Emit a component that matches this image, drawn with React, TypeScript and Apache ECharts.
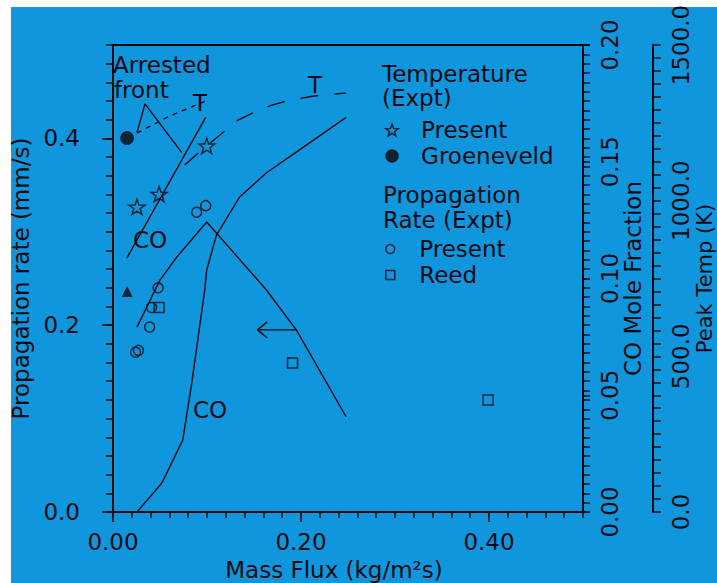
import React, { useEffect, useRef } from 'react';
import * as echarts from 'echarts';

const BLUE = '#0f96dc';
const INK = '#050a10';
const FONT = 'DejaVu Sans';

// x: mass flux (kg/m^2 s)
// Temperature (Expt) — Present (K)
const tempPresent = [[0.0255, 980], [0.049, 1021], [0.0997, 1176]];
// Temperature (Expt) — Groeneveld (K)
const tempGroeneveld = [[0.015, 1201]];
// Propagation rate — Groeneveld (mm/s)
const rateGroeneveld = [[0.015, 0.236]];
// Propagation Rate (Expt) — Present (mm/s)
const ratePresent = [
  [0.024, 0.171], [0.027, 0.173], [0.039, 0.198], [0.041, 0.219],
  [0.048, 0.24], [0.089, 0.321], [0.0986, 0.328],
];
// Propagation Rate (Expt) — Reed (mm/s)
const rateReed = [[0.049, 0.219], [0.191, 0.1595], [0.399, 0.12]];
// Model peak temperature curves (K)
const tempModelShort = [[0.0255, 1217], [0.0604, 1272], [0.0986, 1320]];
const tempModelLong = [
  [0.0764, 1115], [0.0997, 1176], [0.133, 1259], [0.151, 1285],
  [0.169, 1307], [0.188, 1323], [0.214, 1336], [0.248, 1346],
];
// Model CO mole fraction curves
const coModelLow = [[0.0148, 0.1088], [0.0986, 0.169]];
const coModelHigh = [
  [0.0255, 0], [0.052, 0.0124], [0.0742, 0.0308], [0.0838, 0.0553],
  [0.0976, 0.0951], [0.0997, 0.1036], [0.11, 0.1186], [0.1347, 0.1349],
  [0.163, 0.1452], [0.198, 0.155], [0.248, 0.169],
];
// Model propagation rate (mm/s)
const rateModel = [
  [0.0255, 0.198], [0.0498, 0.248], [0.0679, 0.273], [0.0997, 0.3105],
  [0.163, 0.238], [0.195, 0.195], [0.248, 0.102],
];
// Annotation arrow (mm/s units)
const arrowShaft = [[0.195, 0.195], [0.1537, 0.195]];
const arrowHead = [[0.164, 0.2036], [0.1537, 0.195], [0.164, 0.1864]];
const arrestedPointer = [[0.0255, 0.406], [0.034, 0.437], [0.073, 0.385]];

const STAR =
  'path://M0,-10 L2.35,-3.24 L9.51,-3.09 L3.8,1.24 L5.88,8.09 L0,4 L-5.88,8.09 L-3.8,1.24 L-9.51,-3.09 L-2.35,-3.24 Z';
const SQUARE = 'path://M0,0 L10,0 L10,10 L0,10 Z';

const txt = { color: INK, fontFamily: FONT, fontSize: 23 };
const aLine = { show: true, lineStyle: { color: INK, width: 2 } };
const tickStyle = { color: INK, width: 1.5 };

function App() {
  const ref = useRef<HTMLDivElement>(null);
  useEffect(() => {
    if (!ref.current) return;
    const chart = echarts.init(ref.current, undefined, { renderer: 'svg' });
    const lineSeries = (name: string, data: number[][], y: number, type: any = 'solid', width = 1.4) => ({
      name,
      type: 'line',
      data,
      xAxisIndex: 0,
      yAxisIndex: y,
      symbol: 'none',
      smooth: false,
      lineStyle: { color: INK, width, type },
      silent: true,
      z: 3,
    });
    const gText = (text: string, x: number, y: number, align = 'left') => ({
      type: 'text',
      x,
      y,
      silent: true,
      style: { text, fill: INK, fontFamily: FONT, fontSize: 23, align, verticalAlign: 'middle' },
    });
    chart.setOption({
      animation: false,
      backgroundColor: BLUE,
      grid: {
        left: 113, top: 45, width: 470, height: 467, show: true,
        borderColor: INK, borderWidth: 2, backgroundColor: 'transparent', containLabel: false,
        outerBoundsMode: 'none',
      },
      xAxis: [
        {
          type: 'value', position: 'bottom', min: 0, max: 0.5, interval: 0.2,
          axisLine: aLine, axisTick: { show: true, length: 10, lineStyle: tickStyle },
          axisLabel: { ...txt, margin: 18, showMaxLabel: false, formatter: (v: number) => v.toFixed(2) },
          splitLine: { show: false },
          name: 'Mass Flux (kg/m²s)', nameLocation: 'middle', nameGap: 46,
          nameTextStyle: { ...txt, padding: [0, 28, 0, 0] },
        },
        {
          type: 'value', position: 'bottom', min: 0, max: 0.5, interval: 0.02,
          axisLine: { show: false }, axisTick: { show: true, length: 6, lineStyle: tickStyle },
          axisLabel: { show: false }, splitLine: { show: false },
        },
      ],
      yAxis: [
        {
          type: 'value', position: 'left', min: 0, max: 0.5, interval: 0.2,
          axisLine: aLine, axisTick: { show: true, length: 11, lineStyle: tickStyle },
          axisLabel: { ...txt, margin: 33, showMaxLabel: false, formatter: (v: number) => v.toFixed(1) },
          splitLine: { show: false },
          name: 'Propagation rate (mm/s)', nameLocation: 'middle', nameGap: 78, nameRotate: 90,
          nameTextStyle: { ...txt },
        },
        {
          type: 'value', position: 'left', min: 0, max: 0.5, interval: 0.02,
          axisLine: { show: false }, axisTick: { show: true, length: 7, lineStyle: tickStyle },
          axisLabel: { show: false }, splitLine: { show: false },
        },
        {
          type: 'value', position: 'right', min: 0, max: 0.2, interval: 0.05,
          axisLine: aLine, axisTick: { show: true, length: 7, lineStyle: tickStyle },
          axisLabel: { ...txt, rotate: 90, margin: 15, formatter: (v: number) => v.toFixed(2) },
          splitLine: { show: false },
          name: 'CO Mole Fraction', nameLocation: 'middle', nameGap: 38, nameRotate: 90,
          nameMoveOverlap: false,
          nameTextStyle: { ...txt },
        },
        {
          type: 'value', position: 'right', min: 0, max: 0.2, interval: 0.004,
          axisLine: { show: false }, axisTick: { show: true, length: 7, lineStyle: tickStyle },
          axisLabel: { show: false }, splitLine: { show: false },
        },
        {
          type: 'value', position: 'right', offset: 70, min: 0, max: 1500, interval: 500,
          axisLine: aLine, axisTick: { show: true, length: 8, lineStyle: tickStyle },
          minorTick: { show: true, splitNumber: 12, length: 8, lineStyle: tickStyle },
          axisLabel: { ...txt, rotate: 90, margin: 16, formatter: (v: number) => v.toFixed(1) },
          splitLine: { show: false }, minorSplitLine: { show: false },
          name: 'Peak Temp (K)', nameLocation: 'middle', nameGap: 41, nameRotate: 90,
          nameMoveOverlap: false,
          nameTextStyle: { ...txt, fontSize: 21 },
        },
      ],
      legend: [
        {
          data: ['Present (T)', 'Groeneveld'], orient: 'vertical', left: 385, top: 117,
          itemWidth: 48, itemHeight: 12, itemGap: 0, padding: 0, selectedMode: false,
          itemStyle: { borderWidth: 1.5 },
          textStyle: { ...txt, lineHeight: 26 },
          formatter: (n: string) => n.replace(/ \(.*\)$/, ''),
        },
        {
          data: ['Present (rate)', { name: 'Reed', icon: SQUARE }], orient: 'vertical', left: 385, top: 236,
          itemWidth: 48, itemHeight: 9, itemGap: 0, padding: 0, selectedMode: false,
          itemStyle: { borderWidth: 1.5 },
          textStyle: { ...txt, lineHeight: 26 },
          formatter: (n: string) => n.replace(/ \(.*\)$/, ''),
        },
      ],
      graphic: [
        { type: 'rect', x: 0, y: 0, silent: true, shape: { width: 717, height: 7 }, style: { fill: '#ffffff' } },
        { type: 'rect', x: 0, y: 0, silent: true, shape: { width: 11, height: 583 }, style: { fill: '#ffffff' } },
        gText('Temperature', 382, 74),
        gText('(Expt)', 382, 98),
        gText('Propagation', 383, 195),
        gText('Rate (Expt)', 383, 220),
        gText('Arrested', 113, 65),
        gText('front', 114, 90),
        gText('CO', 150, 240, 'center'),
        gText('CO', 210, 410, 'center'),
        gText('T', 200, 103, 'center'),
        gText('T', 315, 85, 'center'),
      ],
      series: [
        lineSeries('tempModelShort', tempModelShort, 4, [5, 5]),
        lineSeries('tempModelLong', tempModelLong, 4, [18, 16]),
        lineSeries('coModelLow', coModelLow, 2),
        lineSeries('coModelHigh', coModelHigh, 2),
        lineSeries('rateModel', rateModel, 0),
        lineSeries('arrowShaft', arrowShaft, 0),
        lineSeries('arrowHead', arrowHead, 0),
        lineSeries('arrestedPointer', arrestedPointer, 0),
        {
          name: 'Present (T)', type: 'scatter', xAxisIndex: 0, yAxisIndex: 4, data: tempPresent,
          symbol: STAR, symbolSize: 16, symbolKeepAspect: true,
          itemStyle: { color: 'transparent', borderColor: INK, borderWidth: 1.5 }, z: 4,
        },
        {
          name: 'Groeneveld', type: 'scatter', xAxisIndex: 0, yAxisIndex: 4, data: tempGroeneveld,
          symbol: 'circle', symbolSize: 13, itemStyle: { color: INK, borderColor: INK, borderWidth: 1 }, z: 4,
        },
        {
          name: 'Groeneveld rate', type: 'scatter', xAxisIndex: 0, yAxisIndex: 0, data: rateGroeneveld,
          symbol: 'triangle', symbolSize: 11, itemStyle: { color: INK }, z: 4,
        },
        {
          name: 'Present (rate)', type: 'scatter', xAxisIndex: 0, yAxisIndex: 0, data: ratePresent,
          symbol: 'circle', symbolSize: 10,
          itemStyle: { color: 'transparent', borderColor: INK, borderWidth: 1.5 }, z: 4,
        },
        {
          name: 'Reed', type: 'scatter', xAxisIndex: 0, yAxisIndex: 0, data: rateReed,
          symbol: 'rect', symbolSize: 10,
          itemStyle: { color: 'transparent', borderColor: INK, borderWidth: 1.5 }, z: 4,
        },
      ],
    });
    return () => chart.dispose();
  }, []);
  return (
    <div
      ref={ref}
      style={{ position: 'fixed', left: 0, top: 0, width: 717, height: 583 }}
    />
  );
}

export default App;
